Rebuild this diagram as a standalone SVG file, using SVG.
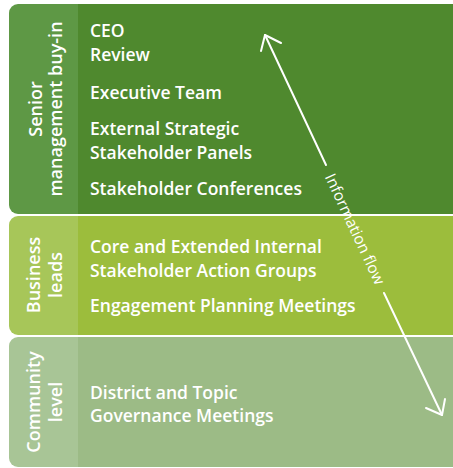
<svg xmlns="http://www.w3.org/2000/svg" width="453" height="468" viewBox="0 0 453 468">
<style>
.item{font-family:"Open Sans","Noto Sans",sans-serif;font-weight:600;font-size:17.5px;fill:#ffffff}
.side{font-family:"Open Sans","Noto Sans",sans-serif;font-weight:600;font-size:18px;fill:#ffffff;text-anchor:middle}
.flow{font-family:"Open Sans","Noto Sans",sans-serif;font-weight:400;font-size:15.5px;fill:#ffffff;text-anchor:middle}
.conn{stroke:#ffffff;stroke-width:2;fill:none;stroke-linecap:round;stroke-linejoin:round}
</style>
<rect width="453" height="468" fill="#ffffff"/>
<g id="senior">
<rect x="9" y="4" width="470" height="210" rx="9" fill="#5e9845"/>
<rect x="78" y="4" width="400" height="210" fill="#4f892e"/>
<text class="side" transform="translate(42,109) rotate(-90)">Senior</text>
<text class="side" transform="translate(62,109) rotate(-90)">management buy-in</text>
<text class="item" x="90" y="37">CEO</text>
<text class="item" x="90" y="61">Review</text>
<text class="item" x="90" y="99">Executive Team</text>
<text class="item" x="90" y="135">External Strategic</text>
<text class="item" x="90" y="159">Stakeholder Panels</text>
<text class="item" x="90" y="195">Stakeholder Conferences</text>
</g>
<g id="business">
<rect x="9" y="216" width="470" height="119" rx="9" fill="#a7c659"/>
<rect x="78" y="216" width="400" height="119" fill="#9cbd3c"/>
<text class="side" transform="translate(40,275) rotate(-90)">Business</text>
<text class="side" transform="translate(62,275) rotate(-90)">leads</text>
<text class="item" x="90" y="253">Core and Extended Internal</text>
<text class="item" x="90" y="277">Stakeholder Action Groups</text>
<text class="item" x="90" y="312">Engagement Planning Meetings</text>
</g>
<g id="community">
<rect x="9" y="337" width="470" height="130" rx="9" fill="#a8c596"/>
<rect x="78" y="337" width="400" height="130" fill="#9cbb86"/>
<text class="side" transform="translate(40,402) rotate(-90)">Community</text>
<text class="side" transform="translate(62,402) rotate(-90)">level</text>
<text class="item" x="90" y="399">District and Topic</text>
<text class="item" x="90" y="422">Governance Meetings</text>
</g>
<g id="connectors">
<path class="conn" d="M265,35 L326,165"/>
<path class="conn" d="M384,293 L442,415"/>
<path class="conn" d="M261,51 L265,35 L281,43"/>
<path class="conn" d="M426,408 L442,415 L445,399"/>
<text class="flow" transform="translate(355,229) rotate(65)" dy="0.35em">Information flow</text>
</g>
</svg>
